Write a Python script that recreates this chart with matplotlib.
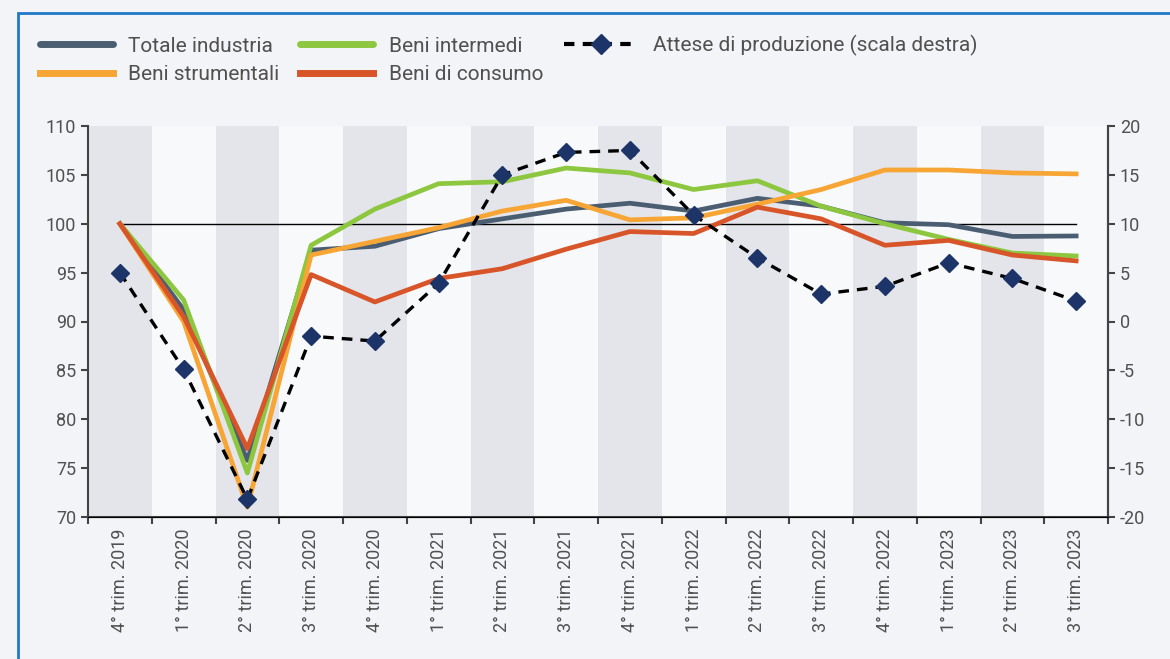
import numpy as np
import matplotlib
matplotlib.use('Agg')
import matplotlib.pyplot as plt
from matplotlib.lines import Line2D
from matplotlib.patches import Rectangle

plt.rcParams['font.family'] = ['Roboto', 'DejaVu Sans']
plt.rcParams['axes.unicode_minus'] = False

# trimestri
quarters = ['4° trim. 2019', '1° trim. 2020', '2° trim. 2020', '3° trim. 2020',
            '4° trim. 2020', '1° trim. 2021', '2° trim. 2021', '3° trim. 2021',
            '4° trim. 2021', '1° trim. 2022', '2° trim. 2022', '3° trim. 2022',
            '4° trim. 2022', '1° trim. 2023', '2° trim. 2023', '3° trim. 2023']

# indici (4° trim. 2019 = 100), scala sinistra
totale = [100, 91.2, 75.8, 97.3, 97.7, 99.5, 100.5, 101.5, 102.1, 101.3, 102.6,
          101.8, 100.1, 99.9, 98.7, 98.75]
intermedi = [100, 92.2, 74.5, 97.8, 101.5, 104.1, 104.3, 105.7, 105.2, 103.5, 104.4,
             101.8, 100.0, 98.4, 97.0, 96.7]
strumentali = [100, 90.0, 71.0, 96.8, 98.2, 99.6, 101.3, 102.4, 100.4, 100.6, 102.0,
               103.5, 105.5, 105.5, 105.2, 105.1]
consumo = [100, 90.5, 77.0, 94.8, 92.0, 94.4, 95.4, 97.4, 99.2, 99.0, 101.7,
           100.5, 97.8, 98.3, 96.8, 96.2]
# attese di produzione, scala destra
attese = [5.0, -4.9, -18.2, -1.5, -2.0, 3.9, 15.0, 17.3, 17.5, 10.9, 6.5,
          2.8, 3.6, 6.0, 4.4, 2.1]

left_ticks = [70, 75, 80, 85, 90, 95, 100, 105, 110]
right_ticks = [-20, -15, -10, -5, 0, 5, 10, 15, 20]

c_tot = '#4b5e71'
c_int = '#8dc63f'
c_str = '#f7a535'
c_con = '#d8552a'
c_mark = '#1d3468'
c_txt = '#505050'

fig = plt.figure(figsize=(11.7, 6.59), dpi=100)
fig.patch.set_facecolor('#f3f4f7')
fig.patches.append(Rectangle((18/1170, -0.05), 1.2, (659-13)/659 + 0.05,
                             transform=fig.transFigure, fill=False,
                             edgecolor='#1f78c8', linewidth=2))

ax = fig.add_axes([88/1170, (659-517)/659, (1108-88)/1170, (517-126)/659])
ax.set_facecolor('#f8f9fb')
x = np.arange(len(quarters))

for i in x:
    if i % 2 == 0:
        ax.axvspan(i-0.5, i+0.5, color='#e3e5ea', lw=0, zorder=0)

ax.plot([x[0], x[-1]], [100, 100], color='black', lw=1.0, zorder=2)
lw = 3.4
ax.plot(x, totale, color=c_tot, lw=lw, zorder=3)
ax.plot(x, intermedi, color=c_int, lw=lw, zorder=3)
ax.plot(x, strumentali, color=c_str, lw=lw, zorder=3)
ax.plot(x, consumo, color=c_con, lw=lw, zorder=4)

ax.set_xlim(-0.5, len(quarters)-0.5)
ax.set_ylim(70, 110)
ax.set_yticks(left_ticks)
ax.set_xticks(x)
ax.set_xticklabels(quarters, rotation=90)
ax.set_xticks(np.arange(-0.5, len(quarters), 1), minor=True)
ax.tick_params(axis='x', which='major', length=0, pad=8, labelsize=13, labelcolor=c_txt)
ax.tick_params(axis='x', which='minor', length=5, width=1.5, color='#444444', direction='out')
ax.tick_params(axis='y', length=5, width=1.5, color='#444444', labelsize=13, labelcolor=c_txt)
ax.spines['top'].set_visible(False)
for s in ['left', 'bottom', 'right']:
    ax.spines[s].set_color('#444444')
    ax.spines[s].set_linewidth(1.5)

ax2 = ax.twinx()
ax2.plot(x, attese, color='black', lw=2.4, dashes=(3.2, 2.4), zorder=5)
ax2.plot(x, attese, ls='none', marker='D', markersize=9, color=c_mark, zorder=6)
ax2.set_ylim(-20, 20)
ax2.set_yticks(right_ticks)
ax2.tick_params(axis='y', length=5, width=1.5, color='#444444', labelsize=13, labelcolor=c_txt)
ax2.spines['top'].set_visible(False)
ax2.spines['right'].set_color('#444444')
ax2.spines['right'].set_linewidth(1.5)
ax2.spines['left'].set_visible(False)

handles = [Line2D([], [], color=c_tot, lw=5, solid_capstyle='round'),
           Line2D([], [], color=c_str, lw=5),
           Line2D([], [], color=c_int, lw=5, solid_capstyle='round'),
           Line2D([], [], color=c_con, lw=5),
           Line2D([], [], color='black', lw=3, dashes=(2.5, 2), marker='D',
                  markersize=10, markerfacecolor=c_mark, markeredgecolor=c_mark)]
labels = ['Totale industria', 'Beni strumentali', 'Beni intermedi',
          'Beni di consumo', 'Attese di produzione (scala destra)']
leg = fig.legend(handles, labels, ncol=3, loc='upper left', bbox_to_anchor=(0.018, 0.975),
                 frameon=False, fontsize=15, handlelength=3.5, columnspacing=1.0,
                 labelspacing=0.45, handletextpad=0.75)
for t in leg.get_texts():
    t.set_color(c_txt)

fig.savefig('out.png', dpi=100, facecolor=fig.get_facecolor())
